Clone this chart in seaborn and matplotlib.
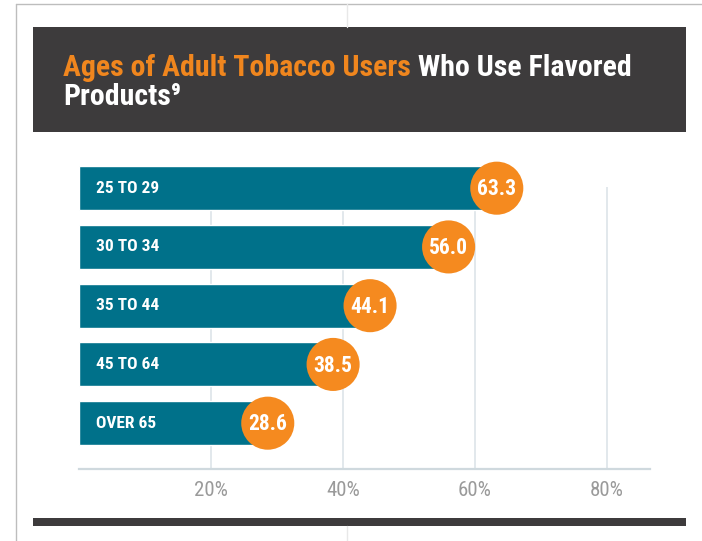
import matplotlib
matplotlib.use('Agg')
import matplotlib.pyplot as plt
import seaborn as sns
import pandas as pd
from matplotlib.patches import Rectangle
from matplotlib.lines import Line2D

# data
age_groups = ['25 TO 29', '30 TO 34', '35 TO 44', '45 TO 64', 'OVER 65']
pct_flavored = [63.3, 56.0, 44.1, 38.5, 28.6]
tick_values = [20, 40, 60, 80]
tick_labels = ['20%', '40%', '60%', '80%']

df = pd.DataFrame({'age': age_groups, 'pct': pct_flavored})

TEAL = '#00718a'
ORANGE = '#f58a1f'
DARK = '#3d3b3c'
GRID = '#dfe6ea'
FONT = ['Roboto Condensed', 'DejaVu Sans Condensed', 'Liberation Sans Narrow',
        'DejaVu Sans']

sns.set_style('white')
plt.rcParams['font.family'] = FONT
plt.rcParams['font.stretch'] = 'condensed'

W, H = 702, 541
fig = plt.figure(figsize=(W / 100, H / 100), dpi=100)

def px(x0, y0, x1, y1):
    # pixel box (top-left origin) -> figure fraction rect
    return [x0 / W, 1 - y1 / H, (x1 - x0) / W, (y1 - y0) / H]

# page decoration
fig.add_artist(Line2D([16 / W, 1], [1 - 4 / H, 1 - 4 / H], color='#bdbdbd', lw=1))
fig.add_artist(Line2D([16 / W, 16 / W], [0, 1 - 4 / H], color='#bdbdbd', lw=1))
fig.add_artist(Line2D([347 / W, 347 / W], [1 - 4 / H, 1 - 27 / H], color='#e8e8e8', lw=1))
fig.add_artist(Line2D([347 / W, 347 / W], [0, 1 - 526 / H], color='#e8e8e8', lw=1))

r = px(33, 27, 686, 132)
fig.add_artist(Rectangle((r[0], r[1]), r[2], r[3], transform=fig.transFigure,
                         facecolor=DARK, edgecolor='none'))
r = px(33, 518, 686, 526)
fig.add_artist(Rectangle((r[0], r[1]), r[2], r[3], transform=fig.transFigure,
                         facecolor=DARK, edgecolor='none'))

# two-colour title
TSIZE = 21.5
t1 = fig.text(63 / W, 1 - 76 / H, 'Ages of Adult Tobacco Users', color='#f0861e',
              fontsize=TSIZE, fontweight='bold', va='baseline', ha='left')
fig.canvas.draw()
bb = t1.get_window_extent()
fig.text(bb.x1 / W, 1 - 76 / H, ' Who Use Flavored', color='white', fontsize=TSIZE,
         fontweight='bold', va='baseline', ha='left')
fig.text(63 / W, 1 - 105 / H, 'Products\u2079', color='white', fontsize=TSIZE,
         fontweight='bold', va='baseline', ha='left')

# chart axes
ax = fig.add_axes(px(79, 150, 650, 469))
xmax = (650 - 79) / 6.6
ax.vlines(tick_values, -0.02, 4.78, color=GRID, lw=1.3, zorder=0)
sns.barplot(data=df, x='pct', y='age', orient='h', color=TEAL, saturation=1,
            width=0.75, ax=ax, zorder=2)
sns.scatterplot(data=df, x='pct', y='age', s=1460, color=ORANGE, edgecolor='none',
                linewidth=0, ax=ax, zorder=3, legend=False)

for i, (lab, v) in enumerate(zip(age_groups, pct_flavored)):
    ax.text(2.5, i, lab, color='white', fontsize=12.5, fontweight='bold',
            va='center', ha='left', zorder=4)
    ax.text(v, i + 0.02, f'{v:.1f}', color='white', fontsize=15.5, fontweight='bold',
            va='center', ha='center', zorder=4)

ax.set_xlim(0, xmax)
ax.set_ylim(4.78, -0.65)
ax.set_xticks(tick_values)
ax.set_xticklabels(tick_labels, color='#9a9a9a', fontsize=15)
ax.set_yticks([])
ax.set_xlabel('')
ax.set_ylabel('')
ax.tick_params(axis='x', length=0, pad=9)
for s in ['top', 'right', 'left']:
    ax.spines[s].set_visible(False)
ax.spines['bottom'].set_color('#cfd9de')
ax.spines['bottom'].set_linewidth(1.6)
ax.patch.set_alpha(0)

fig.savefig('out.png', dpi=100)
